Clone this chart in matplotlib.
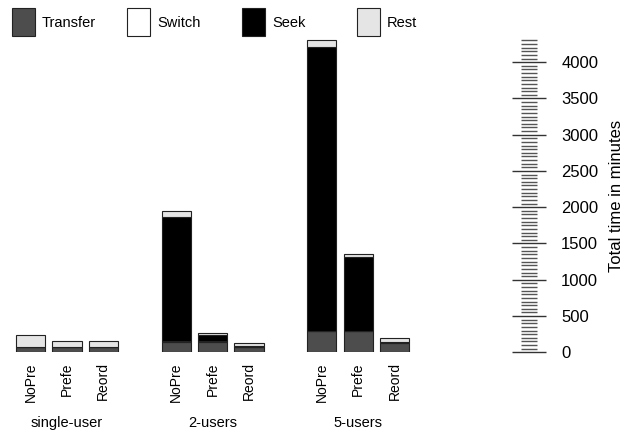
import numpy as np
import matplotlib
matplotlib.use('Agg')
import matplotlib.pyplot as plt
from matplotlib.patches import Rectangle
from matplotlib.ticker import MultipleLocator
import matplotlib.transforms as mtransforms

plt.rcParams['font.family'] = ['Liberation Sans', 'DejaVu Sans']

groups = ['single-user', '2-users', '5-users']
methods = ['NoPre', 'Prefe', 'Reord']
series_names = ['Transfer', 'Switch', 'Seek', 'Rest']
colors = ['#4d4d4d', '#ffffff', '#000000', '#e5e5e5']

# values per bar, order: single-user (NoPre, Prefe, Reord), 2-users (...), 5-users (...)
transfer = [75, 75, 75, 145, 145, 75, 295, 295, 135]
switch = [0, 0, 0, 5, 5, 3, 5, 5, 3]
seek = [3, 3, 3, 1720, 83, 15, 3910, 1010, 8]
rest = [160, 83, 83, 77, 27, 30, 100, 45, 58]

fig = plt.figure(figsize=(6.4, 4.32), dpi=100)
ax = fig.add_axes([0, 1 - 352.3 / 432, 528.5 / 640, 313 / 432])

pos = []
for g in range(len(groups)):
    for m in range(len(methods)):
        pos.append(g * 4 + m)
pos = np.array(pos)

bottom = np.zeros(len(pos))
for vals, col in zip([transfer, switch, seek, rest], colors):
    vals = np.array(vals, dtype=float)
    ax.bar(pos, vals, width=0.8, bottom=bottom, color=col,
           edgecolor='#222222', linewidth=0.8)
    bottom += vals

ax.set_xlim(-0.84, 13.68)
ax.set_ylim(0, 4315)

for s in ax.spines.values():
    s.set_visible(False)

ax.set_xticks(pos)
ax.set_xticklabels(methods * len(groups), rotation=90, fontsize=10, va='top')
ax.tick_params(axis='x', length=0, pad=7)

ax.yaxis.tick_right()
ax.yaxis.set_label_position('right')
ax.yaxis.set_major_locator(MultipleLocator(500))
ax.yaxis.set_minor_locator(MultipleLocator(50))
ax.set_yticks(np.arange(0, 4001, 500))
ax.tick_params(axis='y', which='major', direction='inout', length=25, width=1.0,
               color='#333333', labelsize=12, pad=11)
ax.tick_params(axis='y', which='minor', direction='inout', length=11.5, width=1.0,
               color='#555555')
ax.set_ylabel('Total time in minutes', fontsize=12, labelpad=8)

trans = mtransforms.blended_transform_factory(ax.transData, fig.transFigure)
for g, name in enumerate(groups):
    ax.text(g * 4 + 1, 1 - 423 / 432, name, transform=trans, ha='center',
            va='center', fontsize=10.5)

# legend across the top
for i, (name, col) in enumerate(zip(series_names, colors)):
    x0 = 12 + i * 115
    fig.add_artist(Rectangle((x0 / 640, 1 - 36 / 432), 23 / 640, 28 / 432,
                             facecolor=col, edgecolor='#222222', linewidth=0.8,
                             transform=fig.transFigure))
    fig.text((x0 + 30) / 640, 1 - 23 / 432, name, fontsize=10.5, va='center')

fig.savefig('out.png', dpi=100)
